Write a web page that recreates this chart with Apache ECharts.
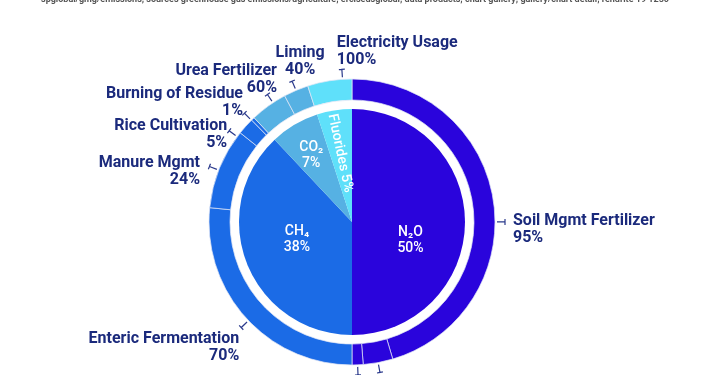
<!DOCTYPE html>
<html><head><meta charset="utf-8">
<script src="https://cdn.jsdelivr.net/npm/echarts@6/dist/echarts.min.js"></script>
<style>html,body{margin:0;padding:0;background:#fff}#c{width:710px;height:375px}</style>
</head><body><div id="c"></div>
<script>
// ---- data ----
const gasNames = ['N₂O', 'CH₄', 'CO₂', 'Fluorides'];
const gasShares = [50, 38, 7, 5];
const sourceNames = ['Soil Mgmt Fertilizer', 'Manure Mgmt', 'Burning of Residue', 'Enteric Fermentation', 'Manure Mgmt', 'Rice Cultivation', 'Burning of Residue', 'Urea Fertilizer', 'Liming', 'Electricity Usage'];
const sourceGas = [0, 0, 0, 1, 1, 1, 1, 2, 2, 3];
const sourceArcShares = [45.4, 3.35, 1.25, 26.6, 9.12, 1.9, 0.38, 4.2, 2.8, 5];
const sourceLabelPct = [95, 4, 1, 70, 24, 5, 1, 60, 40, 100];
const sourceLine = 'spglobal/gmg/emissions; sources greenhouse gas emissions/agriculture; ercisedsglobal; data products; chart gallery; gallery/chart detail; rendrite 19 1250';

// ---- style ----
const gasColors = ['#2a04dc', '#1b6be6', '#56b1e3', '#5fe0fa'];
const CX = 352, CY = 222, R_IN = 113, R0 = 122, R1 = 143;
const tickNudge = [8.25, 0, 0, -1.5, -0.9, -5.4, -0.8, 2.1, 0, 5.2];
const lblAlign = ['left', 'center', 'center', 'right', 'right', 'right', 'right', 'right', 'center', 'left'];
const lblVAlign = ['middle', 'top', 'top', 'top', 'middle', 'middle', 'bottom', 'bottom', 'bottom', 'bottom'];
const lblDx = [8, 0, 0, -2, -9.4, -2, -1.4, 9.5, 8, -5];
const lblDy = [8, 4, 4, 3, 5, 3.7, 6, 2, -2.7, -0.8];
const innerDx = [2, -2.5, -12, -3];
const innerDy = [18, -3, -18, -13];
const innerRot = [0, 0, 0, -78];
const navy = '#1b2a7c';

function midAngles(vals, nudge) {
  const tot = vals.reduce((a, b) => a + b, 0);
  let acc = 0;
  return vals.map((v, i) => {
    const m = (acc + v / 2) / tot * 360;
    acc += v;
    return m + (nudge ? nudge[i] : 0);
  });
}
const innerAng = midAngles(gasShares);
const outerAng = midAngles(sourceArcShares, tickNudge);

const chart = echarts.init(document.getElementById('c'), null, {renderer: 'canvas'});
chart.setOption({
  backgroundColor: '#ffffff',
  animation: false,
  graphic: [{
    type: 'text', left: 'center', top: -5,
    style: {text: sourceLine, fontSize: 9, fontWeight: 'bold', fill: '#555', fontFamily: 'Roboto'}
  }],
  series: [
    {
      type: 'pie', center: [CX, CY], radius: [0, R_IN], startAngle: 90, clockwise: true,
      silent: true, avoidLabelOverlap: false,
      data: gasNames.map((n, i) => ({
        name: n, value: gasShares[i],
        itemStyle: {color: gasColors[i]},
        label: {rotate: innerRot[i]}
      })),
      label: {
        show: true, position: 'inside', color: '#fff', fontFamily: 'Roboto', fontSize: 14,
        fontWeight: 500, lineHeight: 16,
        formatter: p => p.dataIndex === 3 ? p.name + ' ' + p.value + '%' : p.name + '\n' + p.value + '%'
      },
      labelLine: {show: false},
      labelLayout: p => {
        const i = p.dataIndex, th = innerAng[i] * Math.PI / 180, r = R_IN / 2;
        return {x: CX + Math.sin(th) * r + innerDx[i], y: CY - Math.cos(th) * r + innerDy[i], align: 'center', verticalAlign: 'middle'};
      }
    },
    {
      type: 'pie', center: [CX, CY], radius: [R0, R1], startAngle: 90, clockwise: true,
      silent: true, avoidLabelOverlap: false,
      data: sourceNames.map((n, i) => ({
        name: n, value: sourceArcShares[i],
        itemStyle: {color: gasColors[sourceGas[i]]}
      })),
      itemStyle: {borderColor: 'rgba(225,230,245,0.9)', borderWidth: 0.8},
      label: {
        show: true, position: 'outside', color: navy, fontFamily: 'Roboto', fontSize: 16,
        fontWeight: 'bold', lineHeight: 17,
        formatter: p => sourceNames[p.dataIndex] + '\n' + sourceLabelPct[p.dataIndex] + '%'
      },
      labelLine: {show: true, length: 8, length2: 0, lineStyle: {color: '#2b3a8c', width: 1.2}},
      labelLayout: p => {
        const i = p.dataIndex, th = outerAng[i] * Math.PI / 180;
        const sx = Math.sin(th), sy = -Math.cos(th);
        const a = [CX + sx * (R1 + 2), CY + sy * (R1 + 2)];
        const e = [CX + sx * (R1 + 10), CY + sy * (R1 + 10)];
        const px = -sy, py = sx;
        return {
          x: e[0] + lblDx[i], y: e[1] + lblDy[i], align: lblAlign[i], verticalAlign: lblVAlign[i],
          labelLinePoints: [a, e, [e[0] + px * 3, e[1] + py * 3], [e[0] - px * 3, e[1] - py * 3]]
        };
      }
    }
  ]
});
</script></body></html>
